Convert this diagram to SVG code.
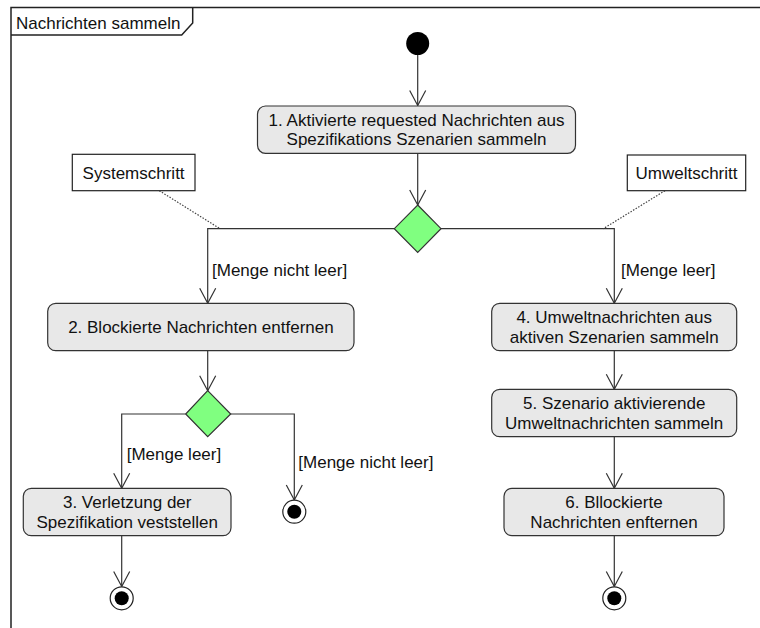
<svg xmlns="http://www.w3.org/2000/svg" width="760" height="628" viewBox="0 0 760 628">
  <defs>
    <style>
      text { font-family: "Liberation Sans", Arial, sans-serif; font-size: 17px; fill: #111; }
      .ctr { text-anchor: middle; }
      .action { fill: #e8e8e8; stroke: #333; stroke-width: 1.2; }
      .decision { fill: #80ff80; stroke: #333; stroke-width: 1.2; }
      .note { fill: #fff; stroke: #222; stroke-width: 1.2; }
      .flow { fill: none; stroke: #333; stroke-width: 1.2; }
      .anchor { fill: none; stroke: #444; stroke-width: 1.2; stroke-dasharray: 1.5 1.5; }
      .frame { fill: none; stroke: #222; stroke-width: 1.5; }
    </style>
    <marker id="open" viewBox="0 0 18 18" refX="16" refY="9" markerWidth="18" markerHeight="18" markerUnits="userSpaceOnUse" orient="auto">
      <path d="M1,1 L16,9 L1,17" fill="none" stroke="#333" stroke-width="1.2"/>
    </marker>
  </defs>

  <!-- activity frame with name tab -->
  <g id="frame">
    <path class="frame" d="M11,640 L11,7.5 L770,7.5"/>
    <path class="frame" d="M11,35 L181.7,35 L192.7,23 L192.7,7.5"/>
    <text x="16" y="29">Nachrichten sammeln</text>
  </g>

  <!-- control flows -->
  <g id="connectors">
    <path class="flow" d="M417.7,55 L417.7,105.5" marker-end="url(#open)"/>
    <path class="flow" d="M417.7,153.3 L417.7,205" marker-end="url(#open)"/>
    <path class="flow" d="M394.3,228.7 L207.7,228.7 L207.7,303.3" marker-end="url(#open)"/>
    <path class="flow" d="M441,228.7 L614.3,228.7 L614.3,303.3" marker-end="url(#open)"/>
    <path class="flow" d="M207.7,350.7 L207.7,390.7" marker-end="url(#open)"/>
    <path class="flow" d="M185.7,414 L121.7,414 L121.7,488.3" marker-end="url(#open)"/>
    <path class="flow" d="M230.7,414 L294.3,414 L294.3,500" marker-end="url(#open)"/>
    <path class="flow" d="M121.7,535.7 L121.7,586.5" marker-end="url(#open)"/>
    <path class="flow" d="M614.3,350.7 L614.3,389.3" marker-end="url(#open)"/>
    <path class="flow" d="M614.3,436.7 L614.3,488.3" marker-end="url(#open)"/>
    <path class="flow" d="M614.3,535.7 L614.3,586.5" marker-end="url(#open)"/>
    <path class="anchor" d="M159.3,190.7 L220,228.7"/>
    <path class="anchor" d="M665,190.7 L603.3,228.7"/>
    <text x="212" y="276">[Menge nicht leer]</text>
    <text x="621" y="276">[Menge leer]</text>
    <text x="126.7" y="460">[Menge leer]</text>
    <text x="298.3" y="468">[Menge nicht leer]</text>
  </g>

  <g id="start">
    <circle cx="417.7" cy="43.5" r="11.5" fill="#000"/>
  </g>

  <g id="action1">
    <rect class="action" x="257.5" y="106" width="318" height="47.3" rx="8"/>
    <text class="ctr" x="416.5" y="126">1. Aktivierte requested Nachrichten aus</text>
    <text class="ctr" x="416.5" y="145.4">Spezifikations Szenarien sammeln</text>
  </g>

  <g id="note-system">
    <rect class="note" x="72.3" y="154.3" width="122.7" height="36.4"/>
    <text class="ctr" x="133.6" y="178.5">Systemschritt</text>
  </g>

  <g id="note-environment">
    <rect class="note" x="627.3" y="155" width="118.4" height="35.7"/>
    <text class="ctr" x="686.5" y="178.5">Umweltschritt</text>
  </g>

  <g id="decision1">
    <path class="decision" d="M417.7,205 L441,228.7 L417.7,252.3 L394.3,228.7 Z"/>
  </g>

  <g id="action2">
    <rect class="action" x="47.7" y="303.3" width="306.3" height="47.4" rx="8"/>
    <text class="ctr" x="200.9" y="332.7">2. Blockierte Nachrichten entfernen</text>
  </g>

  <g id="decision2">
    <path class="decision" d="M207.7,390.7 L230.7,414 L207.7,436.7 L185.7,414 Z"/>
  </g>

  <g id="action3">
    <rect class="action" x="23.3" y="488.3" width="207.7" height="47.4" rx="8"/>
    <text class="ctr" x="127.2" y="508.4">3. Verletzung der</text>
    <text class="ctr" x="127.2" y="527.8">Spezifikation veststellen</text>
  </g>

  <g id="final-violation">
    <circle cx="121.7" cy="598.3" r="11.5" fill="#fff" stroke="#222" stroke-width="1.2"/>
    <circle cx="121.7" cy="598.3" r="7" fill="#000"/>
  </g>

  <g id="final-nonempty">
    <circle cx="294.3" cy="511.7" r="11.5" fill="#fff" stroke="#222" stroke-width="1.2"/>
    <circle cx="294.3" cy="511.7" r="7" fill="#000"/>
  </g>

  <g id="action4">
    <rect class="action" x="491.7" y="303.3" width="245" height="47.4" rx="8"/>
    <text class="ctr" x="614.2" y="323.4">4. Umweltnachrichten aus</text>
    <text class="ctr" x="614.2" y="342.8">aktiven Szenarien sammeln</text>
  </g>

  <g id="action5">
    <rect class="action" x="491.7" y="389.3" width="245" height="47.4" rx="8"/>
    <text class="ctr" x="614.2" y="409.4">5. Szenario aktivierende</text>
    <text class="ctr" x="614.2" y="428.8">Umweltnachrichten sammeln</text>
  </g>

  <g id="action6">
    <rect class="action" x="504" y="488.3" width="220" height="47.4" rx="8"/>
    <text class="ctr" x="614" y="508.4">6. Bllockierte</text>
    <text class="ctr" x="614" y="527.8">Nachrichten enfternen</text>
  </g>

  <g id="final-environment">
    <circle cx="614.3" cy="598.3" r="11.5" fill="#fff" stroke="#222" stroke-width="1.2"/>
    <circle cx="614.3" cy="598.3" r="7" fill="#000"/>
  </g>
</svg>
